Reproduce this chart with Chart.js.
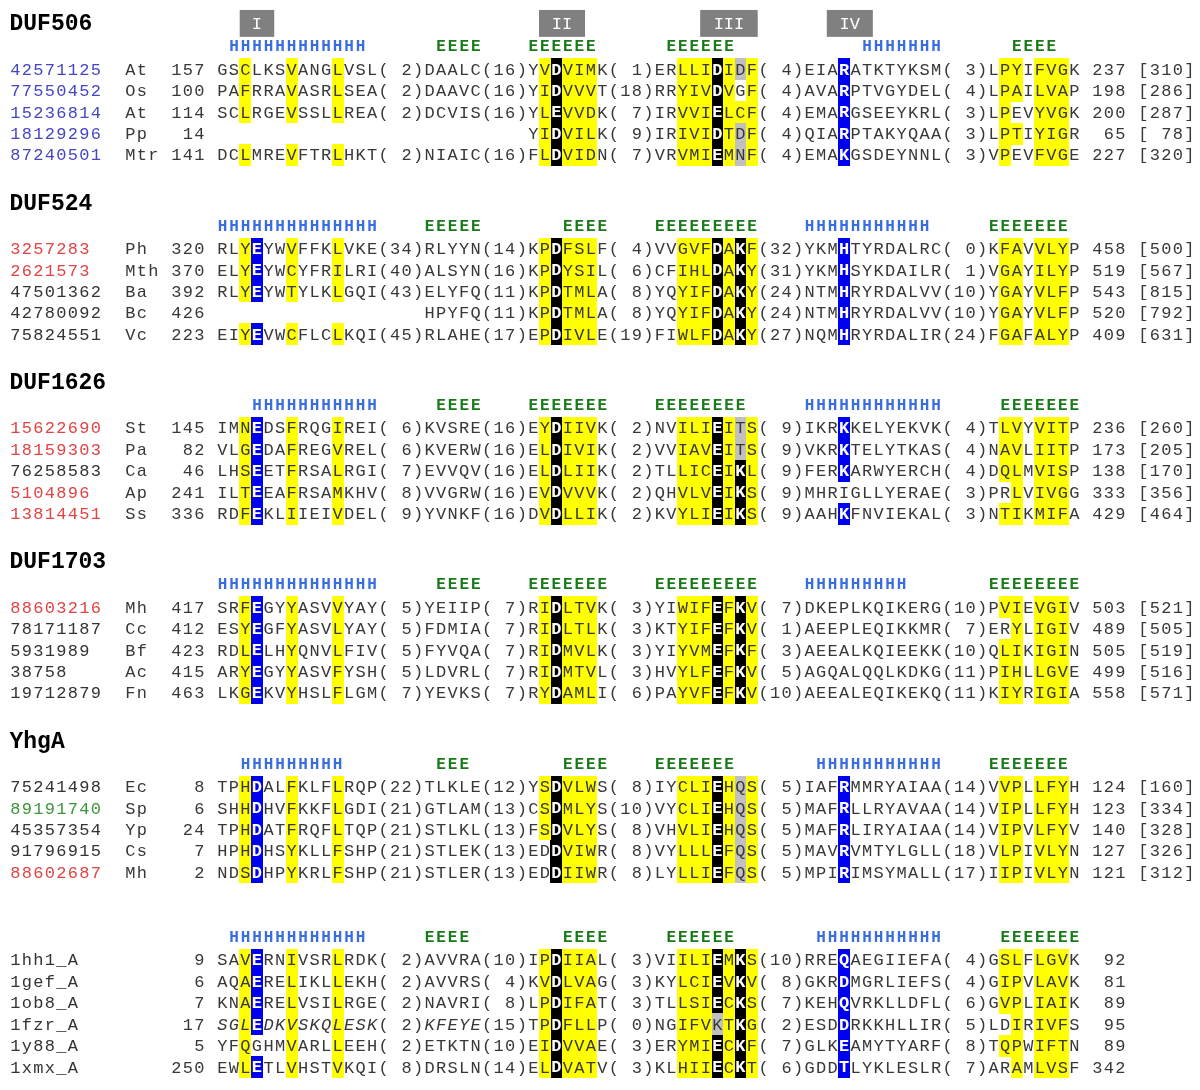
<!DOCTYPE html>
<html>
<head>
<meta charset="utf-8">
<script src="https://cdn.jsdelivr.net/npm/chart.js@4.4.1/dist/chart.umd.min.js"></script>
<style>
  body { margin: 0; background: #fff; }
</style>
</head>
<body>
<canvas id="chart" width="1200" height="1090"></canvas>
<script>
// ---- data: one block of small arrays per family ----

// DUF506
const duf506Ids = ["42571125", "77550452", "15236814", "18129296", "87240501"];
const duf506Species = ["At", "Os", "At", "Pp", "Mtr"];
const duf506Kingdom = ["euk", "euk", "euk", "euk", "euk"];
const duf506Starts = [157, 100, 114, 14, 141];
const duf506Segments = [
  ["GSCLKSVANGLVSL", "DAALC", "YVDVIMK", "ERLLIDIDF", "EIARATKTYKSM", "LPYIFVGK"],
  ["PAFRRAVASRLSEA", "DAAVC", "YIDVVVT", "RRYIVDVGF", "AVARPTVGYDEL", "LPAILVAP"],
  ["SCLRGEVSSLLREA", "DCVIS", "YLEVVDK", "IRVVIELCF", "EMARGSEEYKRL", "LPEVYVGK"],
  ["", "", "YIDVILK", "IRIVIDTDF", "QIARPTAKYQAA", "LPTIYIGR"],
  ["DCLMREVFTRLHKT", "NIAIC", "FLDVIDN", "VRVMIEMNF", "EMAKGSDEYNNL", "VPEVFVGE"]
];
const duf506Gaps = [[2, 16, 1, 4, 3], [2, 16, 18, 4, 4], [2, 16, 7, 4, 3], [null, null, 9, 4, 3], [2, 16, 7, 4, 3]];
const duf506Ends = [237, 198, 200, 65, 227];
const duf506Lengths = [310, 286, 287, 78, 320];
const duf506Structure = [[1, "HHHHHHHHHHHH"], [19, "EEEE"], [27, "EEEEEE"], [39, "EEEEEE"], [56, "HHHHHHH"], [69, "EEEE"]];
const duf506Marks = [
  [2, 2, "yyy.y"], [6, 6, "yyy.y"], [10, 10, "yyy.y"],
  [28, 28, "yyyyy"], [29, 29, "kkkkk"], [30, 32, "yyyyy"],
  [40, 42, "yyyyy"], [43, 43, "kkkkk"], [44, 44, "yyyyy"], [45, 45, "g.ygg"], [46, 46, "yyyyy"],
  [54, 54, "bbbbb"],
  [68, 68, "yyyyy"], [69, 69, "yy.y."], [71, 73, "yyyyy"]
];

// DUF524
const duf524Ids = ["3257283", "2621573", "47501362", "42780092", "75824551"];
const duf524Species = ["Ph", "Mth", "Ba", "Bc", "Vc"];
const duf524Kingdom = ["arch", "arch", "bact", "bact", "bact"];
const duf524Starts = [320, 370, 392, 426, 223];
const duf524Segments = [
  ["RLYEYWVFFKLVKE", "RLYYN", "KPDFSLF", "VVGVFDAKF", "YKMHTYRDALRC", "KFAVVLYP"],
  ["ELYEYWCYFRILRI", "ALSYN", "KPDYSIL", "CFIHLDAKY", "YKMHSYKDAILR", "VGAYILYP"],
  ["RLYEYWTYLKLGQI", "ELYFQ", "KPDTMLA", "YQYIFDAKY", "NTMHRYRDALVV", "YGAYVLFP"],
  ["", "HPYFQ", "KPDTMLA", "YQYIFDAKY", "NTMHRYRDALVV", "YGAYVLFP"],
  ["EIYEVWCFLCLKQI", "RLAHE", "EPDIVLE", "FIWLFDAKY", "NQMHRYRDALIR", "FGAFALYP"]
];
const duf524Gaps = [[34, 14, 4, 32, 0], [40, 16, 6, 31, 1], [43, 11, 8, 24, 10], [null, 11, 8, 24, 10], [45, 17, 19, 27, 24]];
const duf524Ends = [458, 519, 543, 520, 409];
const duf524Lengths = [500, 567, 815, 792, 631];
const duf524Structure = [[0, "HHHHHHHHHHHHHH"], [18, "EEEEE"], [30, "EEEE"], [38, "EEEEEEEEE"], [51, "HHHHHHHHHHH"], [67, "EEEEEEE"]];
const duf524Marks = [
  [2, 2, "yyy.y"], [3, 3, "bbb.b"], [6, 6, "yyy.y"], [10, 10, "yyy.y"],
  [28, 28, "yyyyy"], [29, 29, "kkkkk"], [30, 32, "yyyyy"],
  [40, 42, "yyyyy"], [43, 43, "kkkkk"], [44, 44, "yyyyy"], [45, 45, "kkkkk"], [46, 46, "yyyyy"],
  [54, 54, "bbbbb"],
  [68, 69, "yyyyy"], [71, 73, "yyyyy"]
];

// DUF1626
const duf1626Ids = ["15622690", "18159303", "76258583", "5104896", "13814451"];
const duf1626Species = ["St", "Pa", "Ca", "Ap", "Ss"];
const duf1626Kingdom = ["arch", "arch", "bact", "arch", "arch"];
const duf1626Starts = [145, 82, 46, 241, 336];
const duf1626Segments = [
  ["IMNEDSFRQGIREI", "KVSRE", "EYDIIVK", "NVILIEITS", "IKRKKELYEKVK", "TLVYVITP"],
  ["VLGEDAFREGVREL", "KVERW", "ELDIVIK", "VVIAVEITS", "VKRKTELYTKAS", "NAVLIITP"],
  ["LHSEETFRSALRGI", "EVVQV", "ELDLIIK", "TLLICEIKL", "FERKARWYERCH", "DQLMVISP"],
  ["ILTEEAFRSAMKHV", "VVGRW", "EVDVVVK", "QHVLVEIKS", "MHRIGLLYERAE", "PRLVIVGG"],
  ["RDFEKLIIEIVDEL", "YVNKF", "DVDLLIK", "KVYLIEIKS", "AAHKFNVIEKAL", "NTIKMIFA"]
];
const duf1626Gaps = [[6, 16, 2, 9, 4], [6, 16, 2, 9, 4], [7, 16, 2, 9, 4], [8, 16, 2, 9, 3], [9, 16, 2, 9, 3]];
const duf1626Ends = [236, 173, 138, 333, 429];
const duf1626Lengths = [260, 205, 170, 356, 464];
const duf1626Structure = [[3, "HHHHHHHHHHH"], [19, "EEEE"], [27, "EEEEEEE"], [38, "EEEEEEEE"], [51, "HHHHHHHHHHHH"], [68, "EEEEEEE"]];
const duf1626Marks = [
  [2, 2, "yyyyy"], [3, 3, "bbbbb"], [6, 6, "yyyyy"], [10, 10, "yyyyy"],
  [28, 28, "yyyyy"], [29, 29, "kkkkk"], [30, 32, "yyyyy"],
  [40, 42, "yyyyy"], [43, 43, "kkkkk"], [44, 44, "yyyyy"], [45, 45, "ggkkk"], [46, 46, "yyyyy"],
  [54, 54, "bbb.b"],
  [68, 68, "yyy.y"], [69, 69, "yyyyy"], [71, 73, "yyyyy"]
];

// DUF1703
const duf1703Ids = ["88603216", "78171187", "5931989", "38758", "19712879"];
const duf1703Species = ["Mh", "Cc", "Bf", "Ac", "Fn"];
const duf1703Kingdom = ["arch", "bact", "bact", "bact", "bact"];
const duf1703Starts = [417, 412, 423, 415, 463];
const duf1703Segments = [
  ["SRFEGYYASVVYAY", "YEIIP", "RIDLTVK", "YIWIFEFKV", "DKEPLKQIKERG", "PVIEVGIV"],
  ["ESYEGFYASVLYAY", "FDMIA", "RIDLTLK", "KTYIFEFKV", "AEEPLEQIKKMR", "ERYLIGIV"],
  ["RDLELHYQNVLFIV", "FYVQA", "RIDMVLK", "YIYVMEFKF", "AEEALKQIEEKK", "QLIKIGIN"],
  ["ARYEGYYASVFYSH", "LDVRL", "RIDMTVL", "HVYLFEFKV", "AGQALQQLKDKG", "PIHLLGVE"],
  ["LKGEKVYHSLFLGM", "YEVKS", "RYDAMLI", "PAYVFEFKV", "AEEALEQIKEKQ", "KIYRIGIA"]
];
const duf1703Gaps = [[5, 7, 3, 7, 10], [5, 7, 3, 1, 7], [5, 7, 3, 3, 10], [5, 7, 3, 5, 11], [7, 7, 6, 10, 11]];
const duf1703Ends = [503, 489, 505, 499, 558];
const duf1703Lengths = [521, 505, 519, 516, 571];
const duf1703Structure = [[0, "HHHHHHHHHHHHHH"], [19, "EEEE"], [27, "EEEEEEE"], [38, "EEEEEEEEE"], [51, "HHHHHHHHH"], [67, "EEEEEEEE"]];
const duf1703Marks = [
  [2, 2, "yyyyy"], [3, 3, "bbbbb"], [6, 6, "yyyyy"], [10, 10, "yyyyy"],
  [28, 28, "yyyyy"], [29, 29, "kkkkk"], [30, 32, "yyyyy"],
  [40, 42, "yyyyy"], [43, 43, "kkkkk"], [44, 44, "yyyyy"], [45, 45, "kkkkk"], [46, 46, "yyyyy"],
  [68, 68, "y.yyy"], [69, 69, "yyyyy"], [71, 73, "yyyyy"]
];

// YhgA
const yhgaIds = ["75241498", "89191740", "45357354", "91796915", "88602687"];
const yhgaSpecies = ["Ec", "Sp", "Yp", "Cs", "Mh"];
const yhgaKingdom = ["bact", "other", "bact", "bact", "arch"];
const yhgaStarts = [8, 6, 24, 7, 2];
const yhgaSegments = [
  ["TPHDALFKLFLRQP", "TLKLE", "YSDVLWS", "IYCLIEHQS", "IAFRMMRYAIAA", "VVPLLFYH"],
  ["SHHDHVFKKFLGDI", "GTLAM", "CSDMLYS", "VYCLIEHQS", "MAFRLLRYAVAA", "VIPLLFYH"],
  ["TPHDATFRQFLTQP", "STLKL", "FSDVLYS", "VHVLIEHQS", "MAFRLIRYAIAA", "VIPVLFYV"],
  ["HPHDHSYKLLFSHP", "STLEK", "EDDVIWR", "VYLLLEFQS", "MAVRVMTYLGLL", "VLPIVLYN"],
  ["NDSDHPYKRLFSHP", "STLER", "EDDIIWR", "LYLLIEFQS", "MPIRIMSYMALL", "IIPIVLYN"]
];
const yhgaGaps = [[22, 12, 8, 5, 14], [21, 13, 10, 5, 14], [21, 13, 8, 5, 14], [21, 13, 8, 5, 18], [21, 13, 8, 5, 17]];
const yhgaEnds = [124, 123, 140, 127, 121];
const yhgaLengths = [160, 334, 328, 326, 312];
const yhgaStructure = [[2, "HHHHHHHHH"], [19, "EEE"], [30, "EEEE"], [38, "EEEEEEE"], [52, "HHHHHHHHHHH"], [67, "EEEEEEE"]];
const yhgaMarks = [
  [2, 2, "yyyyy"], [3, 3, "bbbbb"], [6, 6, "yyyyy"], [10, 10, "yyyyy"],
  [28, 28, "yyy.."], [29, 29, "kkkkk"], [30, 32, "yyyyy"],
  [40, 42, "yyyyy"], [43, 43, "kkkkk"], [44, 44, "yyyyy"], [45, 45, "ggggg"], [46, 46, "yyyyy"],
  [54, 54, "bbbbb"],
  [68, 69, "yyyyy"], [71, 73, "yyyyy"]
];

// known structures
const pdbIds = ["1hh1_A", "1gef_A", "1ob8_A", "1fzr_A", "1y88_A", "1xmx_A"];
const pdbSpecies = ["", "", "", "", "", ""];
const pdbKingdom = ["pdb", "pdb", "pdb", "pdb", "pdb", "pdb"];
const pdbStarts = [9, 6, 7, 17, 5, 250];
const pdbSegments = [
  ["SAVERNIVSRLRDK", "AVVRA", "IPDIIAL", "VIILIEMKS", "RREQAEGIIEFA", "GSLFLGVK"],
  ["AQAERELIKLLEKH", "AVVRS", "KVDLVAG", "KYLCIEVKV", "GKRDMGRLIEFS", "GIPVLAVK"],
  ["KNAERELVSILRGE", "NAVRI", "LPDIFAT", "TLLSIECKS", "KEHQVRKLLDFL", "GVPLIAIK"],
  ["SGLEDKVSKQLESK", "KFEYE", "TPDFLLP", "NGIFVKTKG", "ESDDRKKHLLIR", "LDIRIVFS"],
  ["YFQGHMVARLLEEH", "ETKTN", "EIDVVAE", "ERYMIECKF", "GLKEAMYTYARF", "TQPWIFTN"],
  ["EWLETLVHSTVKQI", "DRSLN", "ELDVATV", "KLHIIECKT", "GDDTLYKLESLR", "ARAMLVSF"]
];
const pdbGaps = [[2, 10, 3, 10, 4], [2, 4, 3, 8, 4], [2, 8, 3, 7, 6], [2, 15, 0, 2, 5], [2, 10, 3, 7, 8], [8, 14, 3, 6, 7]];
const pdbEnds = [92, 81, 89, 95, 89, 342];
const pdbItalic = [[], [], [], [0, 1], [], []];
const pdbStructure = [[1, "HHHHHHHHHHHH"], [18, "EEEE"], [30, "EEEE"], [39, "EEEEEE"], [52, "HHHHHHHHHHH"], [68, "EEEEEEE"]];
const pdbMarks = [
  [2, 2, "yyyyyy"], [3, 3, "bbbb.b"], [6, 6, "yyyyyy"], [10, 10, "yyyyyy"],
  [28, 28, "yyyyyy"], [29, 29, "kkkkkk"], [30, 32, "yyyyyy"],
  [40, 42, "yyyyyy"], [43, 43, "kkkgkk"], [44, 44, "yyyyyy"], [45, 45, "kkkkkk"], [46, 46, "yyyyyy"],
  [54, 54, "bbbbbb"],
  [68, 68, "yyy.y."], [69, 69, "yyyyyy"], [71, 73, "yyyyyy"]
];

// conserved motifs, labelled above the first block
const motifLabels = ["I", "II", "III", "IV"];
const motifFrom = [2, 28, 42, 53];
const motifTo = [4, 31, 46, 56];

// ---- layout and styles ----
const segWidths = [14, 5, 7, 9, 12, 8];
const seqCol = 18;          // column where the alignment starts
const colW = 11.55;         // pixels per character column
const leftPad = 7.5;
const firstRowY = [67.5, 247.5, 427.5, 607.5, 787.5, 961.5];
const rowStep = 21.5;

const kingdomColors = { euk: "#4646c4", arch: "#e04444", bact: "#333333", other: "#3a963a", pdb: "#333333" };
const cellColors = { y: "#ffff00", g: "#c0c0c0", k: "#000000", b: "#0000f0" };
const textColor = "#383838";
const monoFont = "'Liberation Mono', 'DejaVu Sans Mono', monospace";

const groups = [
  { title: "DUF506", ids: duf506Ids, species: duf506Species, kingdom: duf506Kingdom, starts: duf506Starts, segments: duf506Segments, gaps: duf506Gaps, ends: duf506Ends, lengths: duf506Lengths, structure: duf506Structure, marks: duf506Marks },
  { title: "DUF524", ids: duf524Ids, species: duf524Species, kingdom: duf524Kingdom, starts: duf524Starts, segments: duf524Segments, gaps: duf524Gaps, ends: duf524Ends, lengths: duf524Lengths, structure: duf524Structure, marks: duf524Marks },
  { title: "DUF1626", ids: duf1626Ids, species: duf1626Species, kingdom: duf1626Kingdom, starts: duf1626Starts, segments: duf1626Segments, gaps: duf1626Gaps, ends: duf1626Ends, lengths: duf1626Lengths, structure: duf1626Structure, marks: duf1626Marks },
  { title: "DUF1703", ids: duf1703Ids, species: duf1703Species, kingdom: duf1703Kingdom, starts: duf1703Starts, segments: duf1703Segments, gaps: duf1703Gaps, ends: duf1703Ends, lengths: duf1703Lengths, structure: duf1703Structure, marks: duf1703Marks },
  { title: "YhgA", ids: yhgaIds, species: yhgaSpecies, kingdom: yhgaKingdom, starts: yhgaStarts, segments: yhgaSegments, gaps: yhgaGaps, ends: yhgaEnds, lengths: yhgaLengths, structure: yhgaStructure, marks: yhgaMarks },
  { title: "", ids: pdbIds, species: pdbSpecies, kingdom: pdbKingdom, starts: pdbStarts, segments: pdbSegments, gaps: pdbGaps, ends: pdbEnds, lengths: null, structure: pdbStructure, marks: pdbMarks, italic: pdbItalic }
];

function pad(n, w) {
  return String(n).padStart(w, " ");
}

function rowY(g, r) {
  return firstRowY[g] + r * rowStep;
}

// builds the alignment line as a list of {ch, italic}
function rowChars(grp, r) {
  const out = [];
  const italicSegs = grp.italic ? grp.italic[r] : [];
  segWidths.forEach((w, k) => {
    const seg = (grp.segments[r][k] || "").padEnd(w, " ");
    for (const ch of seg) out.push({ ch, italic: italicSegs.includes(k) });
    if (k < segWidths.length - 1) {
      const gap = grp.gaps[r][k];
      const txt = gap == null ? "    " : "(" + pad(gap, 2) + ")";
      for (const ch of txt) out.push({ ch, italic: false });
    }
  });
  let tail = " " + pad(grp.ends[r], 3);
  if (grp.lengths) tail += " [" + pad(grp.lengths[r], 3) + "]";
  for (const ch of tail) out.push({ ch, italic: false });
  return out;
}

// highlighted cells, one list per colour
const cellData = { y: [], g: [], k: [], b: [] };
const markLookup = {};
groups.forEach((grp, g) => {
  grp.marks.forEach(([from, to, codes]) => {
    for (let c = from; c <= to; c++) {
      for (let r = 0; r < codes.length; r++) {
        const code = codes[r];
        if (code === ".") continue;
        cellData[code].push({ x: seqCol + c + 0.5, y: rowY(g, r) });
        markLookup[g + "," + r + "," + c] = code;
      }
    }
  });
});

function cellImage(color) {
  const cv = document.createElement("canvas");
  cv.width = 12;
  cv.height = 22;
  const cx = cv.getContext("2d");
  cx.fillStyle = color;
  cx.fillRect(0, 0, cv.width, cv.height);
  return cv;
}

const alignmentText = {
  id: "alignmentText",
  beforeDatasetsDraw(chart) {
    const { ctx, scales: { x, y } } = chart;
    ctx.save();
    motifLabels.forEach((label, i) => {
      const left = x.getPixelForValue(seqCol + motifFrom[i]);
      const right = x.getPixelForValue(seqCol + motifTo[i] + 1);
      const top = y.getPixelForValue(firstRowY[0] - 59.5);
      const bottom = y.getPixelForValue(firstRowY[0] - 32.5);
      ctx.fillStyle = "#808080";
      ctx.fillRect(left, top, right - left, bottom - top);
      ctx.fillStyle = "#ffffff";
      ctx.font = "17px " + monoFont;
      ctx.textAlign = "center";
      ctx.textBaseline = "middle";
      ctx.fillText(label, (left + right) / 2, (top + bottom) / 2 + 1);
    });
    ctx.restore();
  },
  afterDatasetsDraw(chart) {
    const { ctx, scales: { x, y } } = chart;
    const colX = c => x.getPixelForValue(c + 0.5);
    ctx.save();
    ctx.textBaseline = "middle";

    groups.forEach((grp, g) => {
      const first = firstRowY[g];
      if (grp.title) {
        ctx.font = "bold 23px " + monoFont;
        ctx.fillStyle = "#000";
        ctx.textAlign = "left";
        ctx.fillText(grp.title, x.getPixelForValue(0), y.getPixelForValue(first - 45));
      }

      ctx.font = "bold 16px " + monoFont;
      ctx.textAlign = "center";
      grp.structure.forEach(([start, str]) => {
        ctx.fillStyle = str[0] === "H" ? "#3a6ee0" : "#187a18";
        for (let i = 0; i < str.length; i++) {
          ctx.fillText(str[i], colX(seqCol + start + i), y.getPixelForValue(first - 22));
        }
      });

      grp.ids.forEach((id, r) => {
        const py = y.getPixelForValue(rowY(g, r)) + 1;
        const drawAt = (text, col, color, font) => {
          ctx.font = font;
          ctx.fillStyle = color;
          for (let i = 0; i < text.length; i++) ctx.fillText(text[i], colX(col + i), py);
        };
        const plain = "17px " + monoFont;
        drawAt(id, 0, kingdomColors[grp.kingdom[r]], plain);
        drawAt(grp.species[r], 10, textColor, plain);
        drawAt(pad(grp.starts[r], 3), 14, textColor, plain);

        rowChars(grp, r).forEach((item, c) => {
          if (item.ch === " ") return;
          const code = markLookup[g + "," + r + "," + c];
          if (code === "k" || code === "b") {
            ctx.font = "bold 17px " + monoFont;
            ctx.fillStyle = "#ffffff";
          } else {
            ctx.font = (item.italic ? "italic " : "") + "17px " + monoFont;
            ctx.fillStyle = textColor;
          }
          ctx.fillText(item.ch, colX(seqCol + c), py);
        });
      });
    });
    ctx.restore();
  }
};

new Chart(document.getElementById("chart"), {
  type: "scatter",
  data: {
    datasets: ["y", "g", "k", "b"].map(code => ({
      label: code,
      data: cellData[code],
      pointStyle: cellImage(cellColors[code]),
      pointRadius: 1,
      pointHoverRadius: 1
    }))
  },
  options: {
    responsive: false,
    animation: false,
    devicePixelRatio: 1,
    events: [],
    layout: { padding: 0 },
    plugins: {
      legend: { display: false },
      tooltip: { enabled: false }
    },
    scales: {
      x: { type: "linear", display: false, min: -leftPad / colW, max: (1200 - leftPad) / colW },
      y: { type: "linear", display: false, min: 0, max: 1090, reverse: true }
    }
  },
  plugins: [alignmentText]
});
</script>
</body>
</html>
